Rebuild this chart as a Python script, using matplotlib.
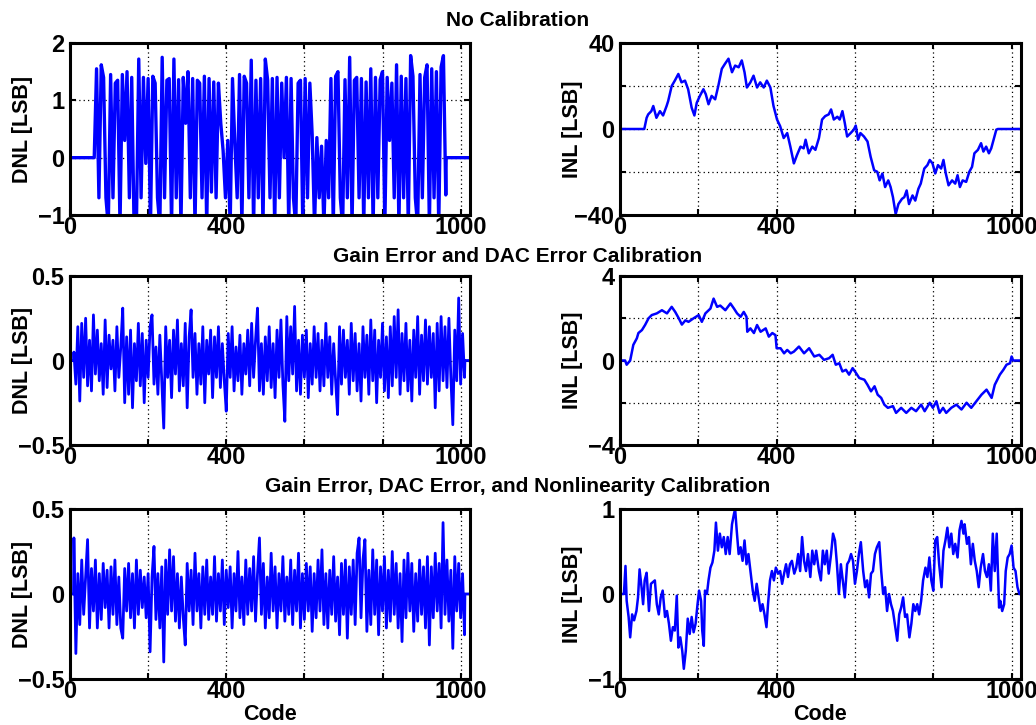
import numpy as np
import matplotlib
matplotlib.use("Agg")
import matplotlib.pyplot as plt

plt.rcParams['font.family'] = ['Liberation Sans', 'DejaVu Sans']
plt.rcParams['font.weight'] = 'bold'

# ---- data ----
# x axis (codes)
x_ticks = [0, 200, 400, 600, 800, 1000]
x_tick_labels = ['0', '', '400', '', '', '1000']

# No calibration: DNL every 6 codes from 62 to 962, zero outside
dnl_nocal_start, dnl_nocal_step = 62, 6
dnl_nocal = [
    0.0, 1.55, -0.7, 1.62, 1.4, -0.7, -1.2, 1.45, -0.7, 1.3,
    1.35, -1.2, 1.45, 0.3, 1.5, -0.7, 1.4, -1.2, -1.2, 1.72,
    -0.7, 1.4, -0.1, 1.38, -1.2, 1.42, 1.3, -0.7, -1.2, 1.75,
    -0.7, 1.35, 1.38, -1.2, 1.72, -0.7, 1.36, -1.2, 1.4, 0.6,
    1.5, -0.7, 1.38, -1.2, 1.35, 1.3, -0.7, 1.42, -1.2, 1.38,
    -0.6, 1.32, -0.7, 1.3, 0.6, 0.12, -0.7, 0.3, -1.2, 1.38,
    0.25, -0.7, 1.45, -1.2, 1.42, 1.3, -0.7, 1.7, -1.2, 1.35,
    -0.7, 1.38, -1.2, 1.72, 1.35, -0.7, 1.38, -1.2, 1.4, -0.7,
    1.3, 0.0, 1.4, -1.2, 1.38, -0.7, -1.2, 1.3, 1.35, -1.2,
    1.38, -0.7, 1.3, 0.4, -1.2, 0.35, -0.7, 0.2, -1.2, 0.3,
    -0.7, 1.38, -1.2, 1.42, 1.5, -0.7, -1.2, 1.36, -0.7, 1.75,
    -1.2, 1.35, 1.4, -0.7, 1.38, -1.2, 1.32, -0.7, 1.55, -1.2,
    1.4, -0.7, 1.36, 1.5, -1.2, 1.4, 0.3, 1.3, -0.7, 1.62,
    -1.2, 1.42, -0.7, 1.38, -1.2, 1.78, 1.42, -0.7, -1.2, 1.45,
    -0.7, 1.4, 1.62, -1.2, 1.55, -0.7, 1.5, -1.2, 1.58, 1.78,
    -0.65,
]

inl_nocal_code = [
    0, 62, 68, 72, 80, 85, 93, 102, 110, 119,
    123, 132, 140, 149, 157, 166, 174, 183, 190, 196,
    204, 213, 219, 226, 234, 243, 251, 260, 268, 277,
    286, 294, 303, 311, 318, 324, 333, 341, 350, 358,
    367, 375, 384, 392, 401, 409, 418, 427, 435, 444,
    452, 461, 469, 474, 482, 491, 499, 508, 516, 524,
    533, 539, 546, 555, 561, 568, 574, 580, 589, 597,
    602, 608, 614, 623, 632, 640, 649, 657, 663, 670,
    677, 685, 691, 697, 704, 711, 720, 726, 732, 738,
    747, 754, 762, 768, 777, 785, 791, 798, 805, 812,
    820, 826, 832, 839, 848, 856, 862, 868, 875, 884,
    892, 899, 905, 914, 922, 928, 935, 942, 948, 954,
    961, 965, 1023,
]
inl_nocal = [
    0, 0, 5.2, 6.8, 8.3, 10.7, 5.2, 8.3, 6.3, 10.7,
    13, 20, 22.5, 25.6, 21.7, 22.5, 18.5, 9.9, 6.3, 12.2,
    15.4, 18.5, 16.2, 11.5, 15.4, 13.8, 20, 28, 30.3, 32.7,
    26.4, 29.5, 28.7, 31.9, 26.4, 19.3, 21.7, 24.8, 19.3, 21.7,
    19.3, 22.5, 19.3, 10.7, 4.4, 1.3, -4.2, -1.9, -8.2, -16,
    -12.1, -8.2, -9, -5, -11.3, -8.2, -9.7, -4.2, 4.4, 6,
    6.8, 9.1, 4.4, 5.7, 4.4, 8.3, 2.8, -3.5, -1.9, -0.3,
    1.6, -5, -1.9, -3.5, -5.8, -12.9, -19.2, -19.9, -23.9, -20.7,
    -27, -23.9, -27, -31.7, -39.6, -34.9, -32.5, -31.7, -28.6, -34.9,
    -30.9, -33.3, -27.8, -25.4, -18.4, -16.8, -14.4, -16, -20.7, -16.8,
    -18.4, -14.4, -20.7, -26.2, -23.9, -25.4, -21.5, -27, -23.9, -24.6,
    -19.9, -17.6, -11.3, -9.7, -6.6, -10.5, -8.2, -11.3, -9, -5,
    -0.3, 0, 0,
]

# Gain error and DAC error calibration: DNL every 5 codes from 10 to 1010
dnl_dac_start, dnl_dac_step = 10, 5
dnl_dac = [
    0.05, -0.14, 0.2, -0.24, 0.22, -0.1, 0.25, -0.15, 0.12, -0.18,
    0.27, -0.08, 0.18, -0.12, 0.1, -0.2, 0.24, -0.16, 0.15, -0.05,
    0.12, -0.18, 0.2, -0.1, 0.08, 0.31, -0.25, 0.14, -0.2, 0.18,
    -0.28, 0.1, -0.12, 0.22, -0.15, 0.16, -0.25, 0.12, -0.1, 0.2,
    0.27, -0.14, 0.08, -0.2, 0.15, -0.12, -0.4, 0.2, -0.1, 0.12,
    -0.22, 0.18, -0.08, 0.24, -0.18, 0.1, -0.15, 0.22, -0.28, 0.14,
    0.3, -0.1, 0.16, -0.2, 0.1, -0.14, 0.2, -0.25, 0.12, -0.08,
    0.18, -0.22, 0.14, -0.1, 0.2, -0.16, 0.1, -0.12, -0.3, 0.16,
    -0.1, 0.2, -0.18, 0.08, -0.12, 0.15, -0.2, 0.1, -0.08, 0.18,
    -0.15, 0.22, -0.1, 0.12, 0.31, -0.18, 0.1, -0.2, 0.14, -0.12,
    0.2, -0.16, 0.1, -0.22, 0.18, -0.1, 0.24, -0.14, -0.36, 0.26,
    -0.12, 0.2, -0.08, 0.32, -0.18, 0.12, -0.2, 0.15, -0.1, 0.18,
    -0.22, 0.1, -0.14, 0.2, -0.1, 0.16, -0.18, 0.12, -0.15, 0.22,
    -0.1, 0.14, -0.2, 0.1, -0.12, -0.32, 0.2, -0.14, 0.18, -0.1,
    0.12, -0.2, 0.22, -0.12, 0.16, -0.18, 0.1, -0.24, 0.2, -0.1,
    0.15, -0.2, 0.24, -0.12, 0.18, -0.25, 0.12, -0.1, 0.22, -0.18,
    0.14, -0.22, 0.2, -0.15, 0.26, -0.1, 0.3, -0.2, 0.16, -0.12,
    0.22, -0.18, 0.12, -0.24, 0.18, -0.1, 0.26, -0.2, 0.15, -0.12,
    0.24, -0.14, 0.2, -0.1, 0.16, -0.28, 0.22, -0.18, 0.26, -0.12,
    0.2, -0.16, 0.25, -0.1, -0.38, 0.18, -0.12, 0.37, -0.14, 0.16,
    -0.1,
]

inl_dac_code = [
    0, 13, 17, 26, 34, 43, 47, 56, 64, 73,
    81, 94, 107, 120, 132, 141, 150, 158, 167, 175,
    188, 201, 209, 218, 231, 239, 248, 256, 269, 282,
    291, 299, 308, 316, 323, 325, 333, 342, 350, 359,
    372, 380, 389, 397, 400, 410, 419, 427, 436, 444,
    457, 470, 483, 496, 509, 521, 534, 543, 551, 560,
    568, 577, 585, 594, 603, 611, 624, 632, 641, 650,
    658, 667, 675, 684, 697, 705, 718, 731, 744, 756,
    769, 778, 791, 799, 808, 816, 825, 833, 846, 859,
    872, 885, 897, 910, 923, 936, 949, 957, 970, 979,
    987, 996, 1000, 1004, 1023,
]
inl_dac = [
    0, 0, -0.2, 0, 0.74, 1.05, 1.3, 1.44, 1.68, 2.0,
    2.15, 2.23, 2.38, 2.23, 2.54, 2.3, 2.0, 1.7, 1.9, 1.83,
    2.0, 2.15, 1.83, 2.23, 2.46, 2.93, 2.54, 2.6, 2.38, 2.7,
    2.46, 2.23, 2.07, 2.3, 2.07, 1.36, 1.52, 1.3, 1.68, 1.36,
    1.52, 1.13, 1.3, 1.2, 0.58, 0.58, 0.34, 0.5, 0.34, 0.42,
    0.66, 0.34, 0.58, 0.19, 0.27, 0.03, 0.11, 0.27, -0.2, -0.13,
    -0.52, -0.44, -0.67, -0.36, -0.6, -0.83, -0.91, -1.15, -1.46, -1.22,
    -1.62, -1.77, -2.09, -2.24, -2.16, -2.48, -2.24, -2.48, -2.24, -2.4,
    -2.09, -2.4, -2.0, -2.24, -1.93, -2.48, -2.24, -2.48, -2.24, -2.09,
    -2.32, -2.0, -2.24, -1.93, -1.62, -1.38, -1.77, -1.15, -0.67, -0.44,
    -0.2, -0.13, 0.19, 0, 0,
]

# Gain error, DAC error and nonlinearity calibration
dnl_full_start, dnl_full_step = 10, 5
dnl_full = [
    0.33, -0.35, 0.12, -0.18, 0.2, -0.12, 0.1, 0.32, -0.2, 0.15,
    -0.1, 0.2, -0.2, 0.12, -0.15, 0.18, -0.08, 0.14, -0.2, 0.16,
    -0.12, 0.2, -0.18, 0.1, -0.2, -0.26, 0.15, -0.1, 0.18, -0.14,
    0.12, -0.2, 0.2, -0.12, 0.14, -0.08, 0.1, -0.14, 0.12, -0.34,
    0.1, 0.28, -0.15, 0.12, -0.2, 0.16, -0.4, 0.2, -0.12, 0.26,
    -0.1, 0.22, -0.16, 0.12, -0.2, 0.1, -0.14, -0.3, 0.18, -0.1,
    0.14, -0.18, 0.24, -0.1, 0.12, -0.2, 0.16, -0.12, 0.2, -0.15,
    0.1, -0.12, 0.22, -0.16, 0.12, -0.1, 0.2, -0.18, 0.14, -0.08,
    0.16, -0.2, 0.12, -0.1, 0.25, -0.14, 0.1, -0.18, 0.2, -0.12,
    0.15, -0.1, 0.22, -0.16, 0.12, 0.33, -0.12, 0.18, -0.2, 0.1,
    -0.14, 0.24, -0.1, 0.16, -0.2, 0.12, -0.1, 0.22, -0.16, 0.1,
    -0.12, 0.2, -0.18, 0.14, -0.1, 0.24, -0.2, 0.12, -0.15, 0.18,
    -0.1, 0.16, -0.22, 0.12, -0.14, 0.2, -0.1, 0.26, -0.18, 0.12,
    -0.2, 0.14, -0.12, 0.22, -0.16, 0.1, -0.24, 0.18, -0.12, 0.2,
    -0.26, 0.16, -0.12, 0.2, -0.18, 0.24, 0.33, -0.14, 0.2, 0.32,
    -0.22, 0.14, -0.18, 0.26, -0.12, 0.2, -0.24, 0.16, -0.1, 0.22,
    -0.2, 0.14, -0.16, 0.25, -0.12, 0.18, -0.2, 0.12, -0.28, 0.2,
    -0.14, 0.24, -0.1, 0.18, -0.22, 0.12, -0.16, 0.2, -0.12, 0.16,
    -0.2, 0.22, -0.3, 0.16, -0.14, 0.24, -0.1, 0.18, -0.2, 0.42,
    -0.12, 0.2, -0.16, 0.14, -0.32, 0.22, -0.1, 0.18, -0.14, 0.12,
    -0.24,
]

inl_full_code = [
    0, 10, 14, 17, 22, 26, 31, 36, 42, 46,
    50, 55, 59, 63, 68, 74, 79, 84, 89, 94,
    99, 104, 109, 115, 120, 125, 130, 135, 140, 145,
    149, 154, 159, 163, 168, 173, 178, 183, 188, 193,
    198, 202, 207, 210, 214, 217, 222, 226, 231, 236,
    241, 245, 250, 255, 260, 265, 270, 275, 280, 286,
    291, 294, 298, 303, 308, 313, 318, 323, 328, 333,
    339, 344, 349, 354, 359, 364, 369, 374, 378, 383,
    388, 393, 398, 404, 409, 414, 419, 424, 429, 434,
    439, 445, 450, 455, 460, 465, 470, 475, 480, 486,
    491, 496, 501, 508, 513, 518, 523, 528, 533, 539,
    544, 549, 554, 559, 564, 569, 574, 580, 585, 590,
    595, 600, 605, 610, 615, 621, 626, 631, 636, 641,
    646, 651, 656, 662, 667, 672, 677, 682, 687, 692,
    697, 703, 708, 713, 718, 723, 728, 733, 739, 744,
    749, 754, 759, 764, 769, 774, 780, 785, 790, 795,
    800, 805, 810, 815, 821, 826, 831, 836, 841, 846,
    851, 856, 862, 867, 872, 877, 880, 886, 891, 896,
    901, 906, 911, 916, 921, 927, 932, 937, 942, 947,
    952, 957, 962, 968, 971, 976, 981, 985, 990, 995,
    1000, 1005, 1010, 1015, 1020, 1023,
]
inl_full = [
    0, 0, 0.33, -0.08, -0.27, -0.51, -0.24, -0.31, -0.2, -0.04,
    0.29, 0.08, -0.12, 0.16, 0.25, -0.2, 0.12, 0.14, 0.16, -0.12,
    -0.24, -0.04, 0.04, -0.27, -0.2, -0.35, -0.55, -0.39, -0.43, -0.02,
    -0.63, -0.51, -0.67, -0.88, -0.67, -0.29, -0.47, -0.27, -0.45, -0.35,
    -0.12, 0.04, -0.08, -0.43, -0.61, 0.04, 0, 0.16, 0.31, 0.37,
    0.51, 0.84, 0.51, 0.71, 0.55, 0.67, 0.47, 0.67, 0.47, 0.82,
    0.94, 1.0, 0.75, 0.47, 0.55, 0.39, 0.63, 0.35, 0.47, 0.27,
    0.04, -0.08, 0.12, -0.04, -0.2, -0.12, -0.24, -0.39, -0.12, 0.16,
    0.27, 0.16, 0.31, 0.24, 0.27, 0.12, 0.24, 0.35, 0.2, 0.35,
    0.39, 0.24, 0.31, 0.47, 0.27, 0.67, 0.39, 0.27, 0.47, 0.2,
    0.51, 0.35, 0.51, 0.27, 0.16, 0.51, 0.35, 0.51, 0.24, 0.47,
    0.71, 0.63, 0.35, 0, 0.35, 0.16, -0.04, 0.35, 0.39, 0.47,
    0.39, 0.12, 0.27, 0.47, 0.61, 0.27, 0.08, 0.16, -0.04, 0.24,
    0.27, 0.47, 0.55, 0.61, 0.27, 0, 0.08, -0.2, 0, -0.12,
    -0.2, -0.39, -0.55, -0.24, -0.16, -0.04, -0.27, -0.24, -0.51, -0.35,
    -0.12, -0.2, -0.12, -0.24, -0.08, 0.16, 0.31, 0.2, 0.43, 0.16,
    0.04, 0.63, 0.67, 0.35, 0.08, 0.51, 0.63, 0.78, 0.55, 0.71,
    0.47, 0.59, 0.43, 0.75, 0.86, 0.71, 0.82, 0.59, 0.67, 0.35,
    0.59, 0.39, 0.27, 0.08, 0.31, 0.47, 0.27, 0.2, 0.35, 0.04,
    0.71, 0.27, 0.71, -0.16, -0.08, -0.2, -0.12, 0.27, 0.43, 0.47,
    0.57, 0.31, 0.27, 0.08, 0, 0,
]

titles = ['No Calibration',
          'Gain Error and DAC Error Calibration',
          'Gain Error, DAC Error, and Nonlinearity Calibration']


# DNL is zero outside the measured range
def pad_dnl(start, step, vals):
    codes = start + step * np.arange(len(vals))
    x = np.concatenate([[0, start - 1], codes, [codes[-1] + 1, 1023]])
    y = np.concatenate([[0, 0], vals, [0, 0]])
    return x, y


def style(ax, yticks, ylabels, ylabel, xlabel=None):
    ax.set_xlim(0, 1024)
    ax.set_ylim(yticks[0], yticks[-1])
    ax.set_xticks(x_ticks)
    ax.set_xticklabels(x_tick_labels)
    ax.set_yticks(yticks)
    ax.set_yticklabels(ylabels)
    ax.grid(True, color='black', linestyle=(0, (1, 2.5)), linewidth=0.9)
    ax.tick_params(direction='in', top=True, right=True, length=4, width=1.5,
                   labelsize=17)
    ax.tick_params(axis='x', pad=1)
    ax.tick_params(axis='y', pad=4)
    for s in ax.spines.values():
        s.set_linewidth(2.2)
    ax.set_ylabel(ylabel, fontsize=15.5, fontweight='bold')
    ax.yaxis.set_label_coords(-0.092, 0.5)
    if xlabel:
        ax.set_xlabel(xlabel, fontsize=15.5, fontweight='bold')
        ax.xaxis.set_label_coords(0.5, -0.15)


fig = plt.figure(figsize=(10.36, 7.25), dpi=100)
W, H = 1036.0, 725.0

# axes boxes in pixels: (top, bottom) per row, (left, right) per column
rows = [(43, 215), (276, 445), (509, 679)]
lefts = [(70, 470), (620, 1021)]

blue = '#0000ff'
dnl_sets = [(dnl_nocal_start, dnl_nocal_step, dnl_nocal),
            (dnl_dac_start, dnl_dac_step, dnl_dac),
            (dnl_full_start, dnl_full_step, dnl_full)]
inl_sets = [(inl_nocal_code, inl_nocal),
            (inl_dac_code, inl_dac),
            (inl_full_code, inl_full)]
dnl_ticks = [([-1, 0, 1, 2], ['\u22121', '0', '1', '2']),
             ([-0.5, 0, 0.5], ['\u22120.5', '0', '0.5']),
             ([-0.5, 0, 0.5], ['\u22120.5', '0', '0.5'])]
inl_ticks = [([-40, -20, 0, 20, 40], ['\u221240', '', '0', '', '40']),
             ([-4, -2, 0, 2, 4], ['\u22124', '', '0', '', '4']),
             ([-1, 0, 1], ['\u22121', '0', '1'])]
title_y = [20, 257, 487]
dnl_lw = [2.4, 2.0, 2.0]

for r, (top, bot) in enumerate(rows):
    xlabel = 'Code' if r == 2 else None
    (l0, r0), (l1, r1) = lefts
    ax1 = fig.add_axes([l0 / W, 1 - bot / H, (r0 - l0) / W, (bot - top) / H])
    x, y = pad_dnl(*dnl_sets[r])
    ax1.plot(x, y, color=blue, linewidth=dnl_lw[r])
    style(ax1, dnl_ticks[r][0], dnl_ticks[r][1], 'DNL [LSB]', xlabel)

    ax2 = fig.add_axes([l1 / W, 1 - bot / H, (r1 - l1) / W, (bot - top) / H])
    ax2.plot(inl_sets[r][0], inl_sets[r][1], color=blue, linewidth=1.8)
    style(ax2, inl_ticks[r][0], inl_ticks[r][1], 'INL [LSB]', xlabel)

    fig.text(0.5, 1 - title_y[r] / H, titles[r], ha='center', va='center',
             fontsize=15, fontweight='bold')

fig.savefig('out.png', dpi=100)
